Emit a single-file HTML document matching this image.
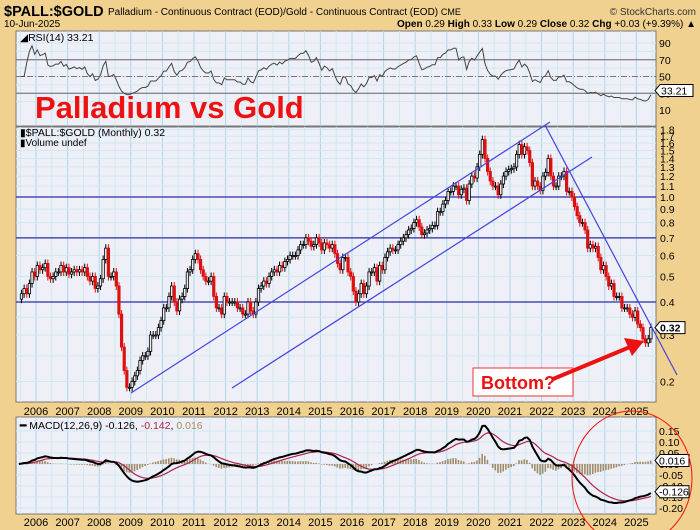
<!DOCTYPE html>
<html><head><meta charset="utf-8"><style>
html,body{margin:0;padding:0;background:#f0d190;}
svg{display:block;font-family:"Liberation Sans",sans-serif;}
</style></head><body>
<svg id="c" width="700" height="530" xmlns="http://www.w3.org/2000/svg">
<rect x="0" y="0" width="700" height="530" fill="#f0d190"/>
<text x="4" y="16" font-size="14.5" font-weight="bold" fill="#000">$PALL:$GOLD</text>
<text x="108" y="15" font-size="10" fill="#000">Palladium - Continuous Contract (EOD)/Gold - Continuous Contract (EOD) <tspan font-size="9">CME</tspan></text>
<text x="696" y="15" font-size="10" fill="#333" text-anchor="end">© StockCharts.com</text>
<text x="4" y="27" font-size="10" fill="#000">10-Jun-2025</text>
<text x="696" y="27" font-size="10" fill="#000" text-anchor="end"><tspan font-weight="bold">Open</tspan> 0.29 <tspan font-weight="bold">High</tspan> 0.33 <tspan font-weight="bold">Low</tspan> 0.29 <tspan font-weight="bold">Close</tspan> 0.32 <tspan font-weight="bold">Chg</tspan> +0.03 (+9.39%) ▲</text>
<g id="rsiP"></g>
<g id="mainP"></g>
<g id="macdP"></g>
</svg>
<script>
const years=[2006,2007,2008,2009,2010,2011,2012,2013,2014,2015,2016,2017,2018,2019,2020,2021,2022,2023,2024,2025];
const startYear=2005, startMonth=5; // June 2005 (0-based month)
const closes=[
0.41,0.43,0.45,0.43,0.47,0.52,0.50,
0.55,0.53,0.54,0.56,0.50,0.49,0.50,0.52,0.52,0.55,0.52,0.54,
0.51,0.52,0.53,0.52,0.53,0.52,0.54,0.50,0.48,0.50,0.45,0.46,
0.49,0.58,0.64,0.50,0.50,0.52,0.46,0.36,0.27,0.22,0.19,0.19,
0.20,0.21,0.22,0.24,0.25,0.25,0.26,0.30,0.30,0.30,0.32,0.34,
0.38,0.38,0.42,0.46,0.40,0.37,0.41,0.42,0.45,0.52,0.53,0.58,
0.61,0.58,0.53,0.50,0.48,0.48,0.50,0.42,0.38,0.38,0.36,0.42,
0.40,0.40,0.40,0.40,0.38,0.38,0.36,0.36,0.40,0.37,0.36,0.40,
0.45,0.46,0.48,0.47,0.50,0.52,0.53,0.52,0.55,0.54,0.57,0.58,
0.60,0.60,0.60,0.63,0.66,0.66,0.70,0.68,0.65,0.66,0.70,0.67,
0.63,0.67,0.66,0.64,0.66,0.61,0.56,0.53,0.59,0.59,0.52,0.50,
0.44,0.40,0.43,0.47,0.43,0.46,0.52,0.52,0.54,0.48,0.55,0.53,
0.59,0.62,0.64,0.63,0.63,0.66,0.68,0.70,0.72,0.75,0.76,0.80,
0.82,0.77,0.72,0.73,0.75,0.76,0.78,0.78,0.88,0.88,0.94,0.97,
1.05,1.05,1.10,1.10,1.02,1.07,1.08,0.97,1.12,1.20,1.18,1.30,
1.45,1.65,1.40,1.25,1.15,1.10,1.10,1.02,1.12,1.20,1.25,1.27,
1.28,1.30,1.45,1.58,1.45,1.55,1.50,1.35,1.10,1.15,1.10,1.06,
1.20,1.24,1.40,1.20,1.10,1.10,1.20,1.20,1.25,1.05,1.05,1.00,
0.92,0.85,0.80,0.80,0.75,0.64,0.66,0.64,0.65,0.59,0.53,0.55,
0.50,0.46,0.47,0.42,0.42,0.42,0.38,0.38,0.38,0.36,0.35,0.37,
0.33,0.32,0.29,0.28,0.29,0.32];
const priceTicks=[1.8,1.7,1.6,1.5,1.4,1.3,1.2,1.1,1.0,0.9,0.8,0.7,0.6,0.5,0.4,0.3,0.2];
const rsiTicks=[90,70,50,30,10];
const macdTicks=[0.15,0.10,0.05,0.00,-0.05,-0.10,-0.15,-0.20];

const NS="http://www.w3.org/2000/svg";
function mk(parent,tag,attrs,txt){const e=document.createElementNS(NS,tag);for(const k in attrs)e.setAttribute(k,attrs[k]);if(txt!==undefined)e.textContent=txt;parent.appendChild(e);return e;}
const L=16,R=656;
const xT=t=>36+(t-2006)*31.6;
const xI=i=>xT(startYear+(startMonth+i+0.5)/12);
const yP=v=>197-114.6*Math.log(v);
const yR=v=>110-(v-10)*0.8375;
const yM=v=>464-v*220;

function panel(g,top,bot,name){
  const r=mk(g,'rect',{x:L,y:top,width:R-L,height:bot-top,fill:'#eff0f7',stroke:'#777','stroke-width':1});
  
  
  for(let y=2005;y<=2026;y+=0.5){const x=xT(y);if(x>L&&x<R){const l=mk(g,'line',{x1:x,x2:x,y1:top,y2:bot,stroke:y%1===0?'#a9d8ea':'#cfe8f2','stroke-width':1});}}
}
function yearAxis(yBase,name){
  const svg=document.getElementById('c');
  years.forEach(y=>{const t=mk(svg,'text',{x:xT(y),y:yBase,'font-size':11,'text-anchor':'middle',fill:'#000'},String(y));
  });
}

// RSI
const rp=document.getElementById('rsiP');
panel(rp,31,126,'rsi');
for(let v=20;v<=90;v+=10){const l=mk(rp,'line',{x1:L,x2:R,y1:yR(v),y2:yR(v),stroke:'#cfe8f2'});}
[70,30].forEach(v=>{const l=mk(rp,'line',{x1:L,x2:R,y1:yR(v),y2:yR(v),stroke:'#666'});});
{const l=mk(rp,'line',{x1:L,x2:R,y1:yR(50),y2:yR(50),stroke:'#777','stroke-dasharray':'6,2,1,2'});}
rsiTicks.forEach(v=>{const t=mk(rp,'text',{x:659,y:yR(v)+4,'font-size':10.5,fill:'#000'},String(v));});
let rsi=[];{let ag=0,al=0;for(let i=1;i<closes.length;i++){const d=closes[i]-closes[i-1];const g=Math.max(d,0),lo=Math.max(-d,0);if(i<=14){ag+=g/14;al+=lo/14;}else{ag=(ag*13+g)/14;al=(al*13+lo)/14;}rsi[i]=i<3?50:100-100/(1+ag/(al||1e-9));}}
{let d='';for(let i=1;i<closes.length;i++){d+=(i===1?'M':'L')+xI(i).toFixed(1)+','+yR(rsi[i]).toFixed(1);}
const p=mk(rp,'path',{d:d,fill:'none',stroke:'#444','stroke-width':1});}
{const t=mk(rp,'text',{x:20,y:41,'font-size':10.5,fill:'#000'},'◢RSI(14) 33.21');}
{const g=mk(rp,'g',{});
mk(g,'path',{d:'M655,'+(yR(33.21))+' l5,-6 h33 v12 h-33z',fill:'#fff',stroke:'#000'});mk(g,'text',{x:661,y:yR(33.21)+4,'font-size':10.5},'33.21');}
{const t=mk(rp,'text',{x:35,y:118,'font-size':31,'font-weight':'bold',fill:'#ee1111'},'Palladium vs Gold');}

// Main price panel
const mp=document.getElementById('mainP');
panel(mp,127,402,'price');
for(let v=0.2;v<=1.85;v+=0.1){const y=yP(v);if(y>127&&y<402){const l=mk(mp,'line',{x1:L,x2:R,y1:y,y2:y,stroke:'#cfe8f2'});}}
for(let v=0.25;v<0.4;v+=0.05){const y=yP(v);const l=mk(mp,'line',{x1:L,x2:R,y1:y,y2:y,stroke:'#cfe8f2'});}
[1.0,0.7,0.4].forEach(v=>{const l=mk(mp,'line',{x1:L,x2:R,y1:yP(v),y2:yP(v),stroke:'#2a2aa8','stroke-width':1.3});});
priceTicks.forEach(v=>{const t=mk(mp,'text',{x:660,y:yP(v)+4,'font-size':10.5,fill:'#000'},v.toFixed(1));});
for(let i=1;i<closes.length;i++){
  const o=closes[i-1],c=closes[i],hi=Math.max(o,c)*1.035,lo=Math.min(o,c)*0.965,x=xI(i);
  const col=c<o?'#dd1111':'#000';
  const g=mk(mp,'g',{});
  
  
  mk(g,'line',{x1:x,x2:x,y1:yP(hi),y2:yP(lo),stroke:col,'stroke-width':1});
  const yt=yP(Math.max(o,c)),yb=yP(Math.min(o,c));
  mk(g,'rect',{x:x-1.2,y:yt,width:2.4,height:Math.max(yb-yt,1),fill:c<o?col:'#eff0f7',stroke:col,'stroke-width':0.8});
}
[[131,393,550,122],[232,388,592,157],[545,125,677,375]].forEach((s,i)=>{const l=mk(mp,'line',{x1:s[0],y1:s[1],x2:s[2],y2:s[3],stroke:'#4444dd','stroke-width':1.2});});
{const t=mk(mp,'text',{x:20,y:136,'font-size':10.5,fill:'#000'},'▮$PALL:$GOLD (Monthly) 0.32');
const t2=mk(mp,'text',{x:20,y:146,'font-size':10,fill:'#000'},'▮Volume undef');}
{const g=mk(mp,'g',{});
const y=yP(0.32);mk(g,'path',{d:'M655,'+y+' l5,-6 h25 v12 h-25z',fill:'#fff',stroke:'#000'});mk(g,'text',{x:660,y:y+4,'font-size':10.5,'font-weight':'bold'},'0.32');}
{const g=mk(mp,'g',{});
mk(g,'rect',{x:473,y:368,width:100,height:28,fill:'#fff',stroke:'#e33',"stroke-width":1});
mk(g,'text',{x:481,y:389,'font-size':18,'font-weight':'bold',fill:'#ee1111'},'Bottom?');}
{const g=mk(mp,'g',{});
mk(g,'line',{x1:553,y1:379,x2:630,y2:347,stroke:'#ee1111','stroke-width':4});
mk(g,'polygon',{points:'644,341 624,338 632,356',fill:'#ee1111'});}
yearAxis(415,'price-axis');

// MACD
const mc=document.getElementById('macdP');
panel(mc,417,514,'macd');
macdTicks.forEach(v=>{const y=yM(v);const l=mk(mc,'line',{x1:L,x2:R,y1:y,y2:y,stroke:'#cfe8f2'});
const t=mk(mc,'text',{x:659,y:y+4,'font-size':10.5,fill:'#000'},v.toFixed(2));});
function ema(a,n){const k=2/(n+1);let r=[a[0]];for(let i=1;i<a.length;i++)r.push(a[i]*k+r[i-1]*(1-k));return r;}
const e12=ema(closes,12),e26=ema(closes,26);const macd=closes.map((_,i)=>e12[i]-e26[i]);const sig=ema(macd,9);
for(let i=0;i<closes.length;i++){const h=macd[i]-sig[i];const r=mk(mc,'rect',{x:xI(i)-1,y:Math.min(yM(0),yM(h)),width:1.6,height:Math.abs(yM(h)-yM(0)),fill:'#a08c68'});}
{let d1='',d2='';for(let i=0;i<closes.length;i++){d1+=(i?'L':'M')+xI(i).toFixed(1)+','+yM(macd[i]).toFixed(1);d2+=(i?'L':'M')+xI(i).toFixed(1)+','+yM(sig[i]).toFixed(1);}
const p2=mk(mc,'path',{d:d2,fill:'none',stroke:'#b0204a','stroke-width':1.2});
const p1=mk(mc,'path',{d:d1,fill:'none',stroke:'#000','stroke-width':2});}
{const t=mk(mc,'text',{x:20,y:429,'font-size':10.5,fill:'#000'});
t.innerHTML='<tspan font-weight="bold">━</tspan> MACD(12,26,9) -0.126, <tspan fill="#b0204a">-0.142</tspan>, <tspan fill="#a08c68">0.016</tspan>';}
{const g=mk(mc,'g',{});
[[0.016,'0.016','#000'],[-0.126,'-0.126','#000']].forEach(a=>{const y=yM(a[0]);mk(g,'path',{d:'M655,'+y+' l5,-6 h29 v12 h-29z',fill:'#fff',stroke:a[2]});mk(g,'text',{x:659,y:y+4,'font-size':10.5},a[1]);});}
{const e=mk(document.getElementById('c'),'ellipse',{cx:632,cy:478,rx:60,ry:67,fill:'none',stroke:'#ee1111','stroke-width':1});}
yearAxis(526,'macd-axis');
</script>
</body></html>
